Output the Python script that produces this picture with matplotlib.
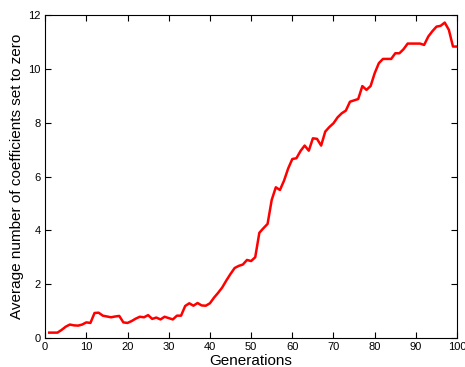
import matplotlib
matplotlib.use("Agg")
import matplotlib.pyplot as plt

plt.rcParams["font.family"] = ["Liberation Sans", "DejaVu Sans"]

generations = list(range(1, 101))
avg_zeroed = [
    0.20, 0.20, 0.20, 0.30, 0.42, 0.50, 0.47, 0.46, 0.50, 0.58,
    0.56, 0.93, 0.94, 0.83, 0.80, 0.77, 0.80, 0.82, 0.58, 0.56,
    0.63, 0.72, 0.79, 0.77, 0.85, 0.71, 0.76, 0.69, 0.79, 0.74,
    0.69, 0.83, 0.83, 1.19, 1.29, 1.20, 1.30, 1.21, 1.20, 1.29,
    1.50, 1.68, 1.88, 2.14, 2.38, 2.60, 2.68, 2.73, 2.90, 2.86,
    3.00, 3.91, 4.08, 4.24, 5.13, 5.60, 5.50, 5.85, 6.30, 6.65,
    6.68, 6.95, 7.15, 6.96, 7.42, 7.40, 7.15, 7.67, 7.84, 7.98,
    8.20, 8.35, 8.45, 8.78, 8.83, 8.88, 9.36, 9.22, 9.36, 9.84,
    10.21, 10.37, 10.37, 10.37, 10.58, 10.58, 10.73, 10.94, 10.94, 10.94,
    10.94, 10.89, 11.20, 11.40, 11.57, 11.60, 11.72, 11.45, 10.83, 10.83,
]
x_ticks = list(range(0, 101, 10))
y_ticks = list(range(0, 13, 2))

fig = plt.figure(figsize=(4.65, 3.67), dpi=100)
ax = fig.add_axes([0.097, 0.079, 0.886, 0.880])
ax.plot(generations, avg_zeroed, color="#ff0000", linewidth=1.8)

ax.set_xlim(0, 100)
ax.set_ylim(0, 12)
ax.set_xticks(x_ticks)
ax.set_yticks(y_ticks)
ax.tick_params(direction="in", top=True, right=True, labelsize=8,
               length=4, width=0.8, pad=3)
for s in ax.spines.values():
    s.set_linewidth(0.8)

ax.set_xlabel("Generations", fontsize=11, labelpad=1)
ax.set_ylabel("Average number of coefficients set to zero", fontsize=11, labelpad=3)

fig.savefig("out.png", dpi=100)
